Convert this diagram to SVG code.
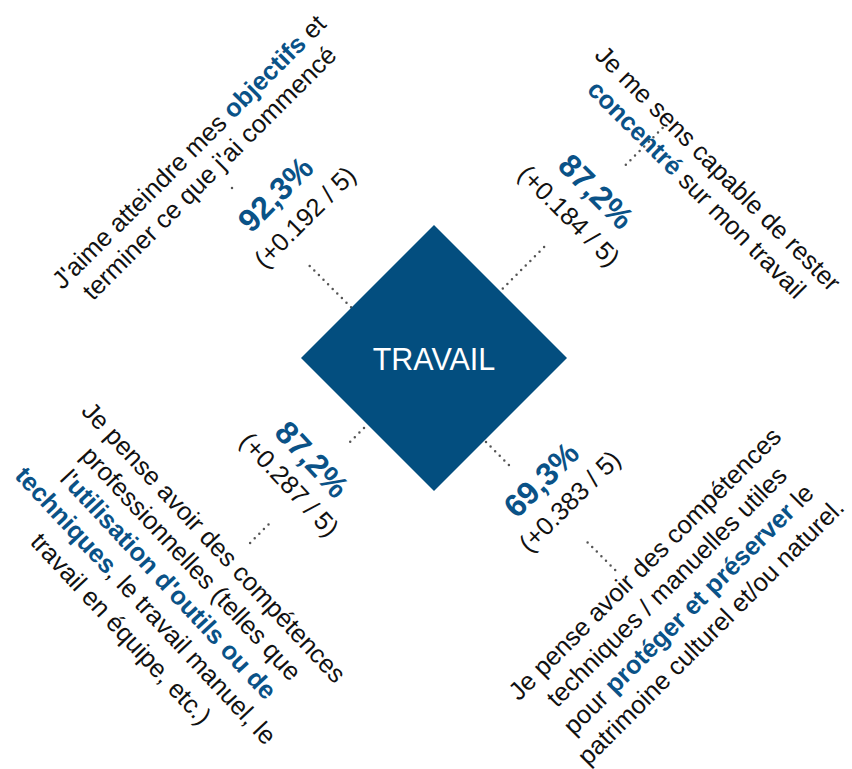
<svg xmlns="http://www.w3.org/2000/svg" width="852" height="769" viewBox="0 0 852 769">
<style>
text{font-family:"Liberation Sans",Arial,Helvetica,sans-serif;fill:#111;text-anchor:middle}
.s{font-size:25.5px}
.b{font-weight:bold;fill:#0a5287}
.p{font-size:32px;font-weight:bold;fill:#0a5287}
.c{stroke:#555;stroke-width:2.5;stroke-linecap:round;stroke-dasharray:0 6.5;fill:none}
.t{font-size:30.5px;fill:#fff}
</style>
<rect width="852" height="769" fill="#fff"/>
<g id="connectors">
<line class="c" x1="309.7" y1="265.9" x2="351.4" y2="307.6"/>
<line class="c" x1="232" y1="188" x2="232.5" y2="188.5"/>
<line class="c" x1="544.1" y1="247.1" x2="502.5" y2="288.8"/>
<line class="c" x1="662.6" y1="128" x2="622.3" y2="168.3"/>
<line class="c" x1="364" y1="428" x2="350" y2="442"/>
<line class="c" x1="268.5" y1="524.5" x2="250" y2="543"/>
<line class="c" x1="486" y1="442" x2="509.8" y2="466"/>
<line class="c" x1="587.6" y1="542.4" x2="618.7" y2="573.5"/>
</g>
<g id="travail">
<polygon points="434,225 567,358 434,491 301,358" fill="#034e7f"/>
<text class="t" x="434" y="369.5">TRAVAIL</text>
</g>
<g id="stat-tl">
<text class="p" transform="translate(283.2,201.9) rotate(-45)">92,3%</text>
<text class="s" transform="translate(311.1,223.4) rotate(-45)">(+0.192 / 5)</text>
</g>
<g id="text-tl">
<text class="s" transform="translate(195,158) rotate(-45)">J'aime atteindre mes <tspan class="b">objectifs</tspan> et</text>
<text class="s" transform="translate(215.5,179.1) rotate(-45)">terminer ce que j'ai commencé</text>
</g>
<g id="stat-tr">
<text class="p" transform="translate(588.2,199.3) rotate(45)">87,2%</text>
<text class="s" transform="translate(562.9,222) rotate(45)">(+0.184 / 5)</text>
</g>
<g id="text-tr">
<text class="s" transform="translate(711.8,174.4) rotate(45)">Je me sens capable de rester</text>
<text class="s" transform="translate(690.6,195.6) rotate(45)"><tspan class="b">concentré</tspan> sur mon travail</text>
</g>
<g id="stat-bl">
<text class="p" transform="translate(304,467) rotate(47)">87,2%</text>
<text class="s" transform="translate(283,490.5) rotate(47)">(+0.287 / 5)</text>
</g>
<g id="text-bl">
<text class="s" transform="translate(207.5,548.3) rotate(47)">Je pense avoir des compétences</text>
<text class="s" transform="translate(184.8,569.4) rotate(47)">professionnelles (telles que</text>
<text class="s" transform="translate(162.1,590.5) rotate(47)">l'<tspan class="b">utilisation d'outils ou de</tspan></text>
<text class="s" transform="translate(139.4,611.6) rotate(47)"><tspan class="b">techniques</tspan>, le travail manuel, le</text>
<text class="s" transform="translate(114.7,634.7) rotate(47)">travail en équipe, etc.)</text>
</g>
<g id="stat-br">
<text class="p" transform="translate(549.1,487.5) rotate(-45)">69,3%</text>
<text class="s" transform="translate(575.8,507.5) rotate(-45)">(+0.383 / 5)</text>
</g>
<g id="text-br">
<text class="s" transform="translate(650.9,570) rotate(-45)">Je pense avoir des compétences</text>
<text class="s" transform="translate(672.7,592.8) rotate(-45)">techniques / manuelles utiles</text>
<text class="s" transform="translate(694.6,615.4) rotate(-45)">pour <tspan class="b">protéger et préserver</tspan> le</text>
<text class="s" transform="translate(716.9,637.7) rotate(-45)">patrimoine culturel et/ou naturel.</text>
</g>
</svg>
